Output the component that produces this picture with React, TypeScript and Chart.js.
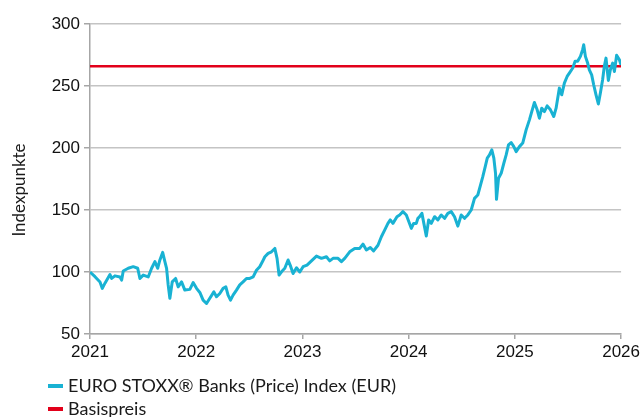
import React, { useEffect, useRef } from "react";
import { Chart, registerables } from "chart.js";

Chart.register(...registerables);

const years: number[] = [
  2021.0, 2021.047, 2021.094, 2021.116, 2021.141, 2021.188, 2021.204, 2021.235, 2021.282, 2021.298,
  2021.313, 2021.36, 2021.407, 2021.449, 2021.47, 2021.501, 2021.548, 2021.58, 2021.611, 2021.637,
  2021.658, 2021.684, 2021.705, 2021.721, 2021.736, 2021.752, 2021.774, 2021.806, 2021.83, 2021.862,
  2021.893, 2021.94, 2021.971, 2022.003, 2022.034, 2022.065, 2022.097, 2022.128, 2022.166, 2022.191,
  2022.222, 2022.253, 2022.279, 2022.3, 2022.323, 2022.347, 2022.379, 2022.41, 2022.441, 2022.473,
  2022.504, 2022.536, 2022.567, 2022.598, 2022.624, 2022.646, 2022.677, 2022.709, 2022.74, 2022.761,
  2022.78, 2022.803, 2022.834, 2022.865, 2022.89, 2022.912, 2022.944, 2022.975, 2023.006, 2023.043,
  2023.085, 2023.132, 2023.179, 2023.226, 2023.257, 2023.288, 2023.335, 2023.367, 2023.398, 2023.445,
  2023.492, 2023.539, 2023.57, 2023.602, 2023.639, 2023.67, 2023.711, 2023.743, 2023.774, 2023.805,
  2023.827, 2023.852, 2023.89, 2023.915, 2023.946, 2023.978, 2024.002, 2024.025, 2024.047, 2024.072,
  2024.087, 2024.103, 2024.125, 2024.143, 2024.166, 2024.188, 2024.213, 2024.244, 2024.275, 2024.307,
  2024.338, 2024.369, 2024.401, 2024.432, 2024.463, 2024.495, 2024.526, 2024.557, 2024.589, 2024.62,
  2024.651, 2024.677, 2024.698, 2024.721, 2024.74, 2024.761, 2024.783, 2024.802, 2024.818, 2024.827,
  2024.846, 2024.871, 2024.896, 2024.918, 2024.94, 2024.965, 2024.99, 2025.012, 2025.043, 2025.074,
  2025.106, 2025.137, 2025.159, 2025.184, 2025.21, 2025.231, 2025.253, 2025.278, 2025.304, 2025.335,
  2025.366, 2025.388, 2025.419, 2025.441, 2025.466, 2025.492, 2025.513, 2025.545, 2025.567, 2025.591,
  2025.617, 2025.638, 2025.648, 2025.664, 2025.685, 2025.701, 2025.723, 2025.742, 2025.764, 2025.786,
  2025.805, 2025.826, 2025.842, 2025.858, 2025.88, 2025.899, 2025.921, 2025.937, 2025.958, 2025.984,
  2026.0,
];

const indexValues: number[] = [
  100, 96.2, 92, 86.8, 91, 98, 94.8, 96.9, 96, 93.5,
  100.8, 103, 104.3, 103, 94.8, 97.5, 96, 103, 108.4, 103,
  109.7, 115.8, 108.4, 103, 89.6, 78.8, 92, 94.8, 88, 92,
  85.4, 86, 91.5, 86.8, 83.5, 77.3, 74.6, 78.8, 84, 80,
  82.7, 86.8, 88, 81.3, 77.3, 81.3, 85.4, 89.6, 92, 94.8,
  94.8, 96, 101.4, 104.3, 108.4, 112.3, 115, 116.3, 119, 111,
  97.5, 100.2, 103, 109.7, 104.3, 98.8, 103.4, 100, 104.3, 105.6,
  109, 112.8, 111, 112.3, 109, 111, 111, 108.4, 111, 116.3,
  119, 119, 122.5, 117.7, 119.8, 117, 121.6, 128.4, 133.8, 139.2,
  142, 139.2, 144.6, 146, 148.7, 146, 140.5, 135.2, 139.2, 139.2,
  143.3, 144.6, 147.3, 139.2, 129, 142, 139.2, 144.6, 142, 146,
  143.3, 147.3, 148.7, 144.6, 137, 146, 143.3, 146, 150, 159.4,
  162.1, 170.2, 176.9, 185, 191.8, 194.4, 198.5, 191.8, 179.6, 158.6,
  175.6, 179.6, 187.7, 194.4, 202.5, 204.4, 201.1, 197.1, 201.1, 204,
  214.6, 222.7, 229.4, 236.7, 230.8, 224, 232.1, 229.4, 234, 230.8,
  225.4, 232.1, 248.3, 242.9, 252.3, 257.7, 260.4, 264.5, 269.9, 269.9,
  273.9, 279.3, 283.3, 273.9, 268.5, 263.1, 259, 251, 242.9, 235.5,
  244.3, 255, 265.8, 272.5, 254.5, 263.1, 268.5, 261.7, 274.8, 271.2,
  267,
];

const strikeYears: number[] = [2021, 2026];
const strikeValues: number[] = [266, 266];

const seriesLabels: string[] = ["EURO STOXX\u00AE Banks (Price) Index (EUR)", "Basispreis"];
const seriesColors: string[] = ["#19b2d3", "#e2001a"];
const yTitle = "Indexpunkte";
const yTicks: number[] = [50, 100, 150, 200, 250, 300];
const xTicks: number[] = [2021, 2022, 2023, 2024, 2025, 2026];

const LEGEND_FONT = "18px Lato";

const customDraw = {
  id: "customDraw",
  afterDraw(chart: any) {
    const ctx = chart.ctx;
    ctx.save();
    // y axis title
    ctx.fillStyle = "#1a1a1a";
    ctx.font = "17px Lato";
    ctx.textAlign = "center";
    ctx.textBaseline = "middle";
    ctx.translate(20, 190);
    ctx.rotate(-Math.PI / 2);
    ctx.fillText(yTitle, 0, 0);
    ctx.restore();

    ctx.save();
    ctx.font = LEGEND_FONT;
    ctx.textAlign = "left";
    ctx.textBaseline = "middle";
    const rows = [386, 409];
    seriesLabels.forEach((label, i) => {
      ctx.fillStyle = seriesColors[i];
      ctx.fillRect(48, rows[i] - 2, 15, 4);
      ctx.fillStyle = "#1a1a1a";
      ctx.fillText(label, 68, rows[i]);
    });
    ctx.restore();
  },
};

export default function App() {
  const ref = useRef<HTMLCanvasElement | null>(null);
  useEffect(() => {
    document.body.style.margin = "0";
    const canvas = ref.current;
    if (!canvas) return;
    const chart = new Chart(canvas, {
      type: "line",
      data: {
        datasets: [
          {
            label: seriesLabels[0],
            data: years.map((x, i) => ({ x, y: indexValues[i] })),
            borderColor: seriesColors[0],
            backgroundColor: seriesColors[0],
            borderWidth: 3,
            pointRadius: 0,
            tension: 0,
            borderJoinStyle: "round",
          },
          {
            label: seriesLabels[1],
            data: strikeYears.map((x, i) => ({ x, y: strikeValues[i] })),
            borderColor: seriesColors[1],
            backgroundColor: seriesColors[1],
            borderWidth: 2.5,
            pointRadius: 0,
          },
        ],
      },
      options: {
        responsive: false,
        animation: false,
        layout: { padding: { left: 0, right: 21, top: 24, bottom: 43 } },
        plugins: { legend: { display: false }, tooltip: { enabled: false } },
        scales: {
          x: {
            type: "linear",
            min: 2021,
            max: 2026,
            afterBuildTicks: (scale: any) => {
              scale.ticks = xTicks.map((v) => ({ value: v }));
            },
            afterFit: (scale: any) => {
              scale.height = 40;
            },
            ticks: {
              callback: (v: any) => String(v),
              color: "#111",
              font: { family: "Liberation Sans, Arial", size: 17 },
              padding: 3,
              maxRotation: 0,
            },
            grid: {
              drawOnChartArea: false,
              drawTicks: true,
              tickLength: 5,
              color: "#a6a6a6",
              lineWidth: 1.5,
            },
            border: { color: "#a6a6a6", width: 1.5 },
          },
          y: {
            min: 50,
            max: 300,
            afterBuildTicks: (scale: any) => {
              scale.ticks = yTicks.map((v) => ({ value: v }));
            },
            afterFit: (scale: any) => {
              scale.width = 90;
            },
            ticks: {
              color: "#111",
              font: { family: "Liberation Sans, Arial", size: 17 },
              padding: 4,
            },
            grid: {
              color: "#c4c4c4",
              lineWidth: 1.5,
              tickLength: 6,
              tickColor: "#a6a6a6",
            },
            border: { color: "#a6a6a6", width: 1.5 },
          },
        },
      },
      plugins: [customDraw],
    } as any);
    return () => chart.destroy();
  }, []);
  return (
    <div style={{ width: 643, height: 417 }}>
      <canvas ref={ref} width={643} height={417} />
    </div>
  );
}
